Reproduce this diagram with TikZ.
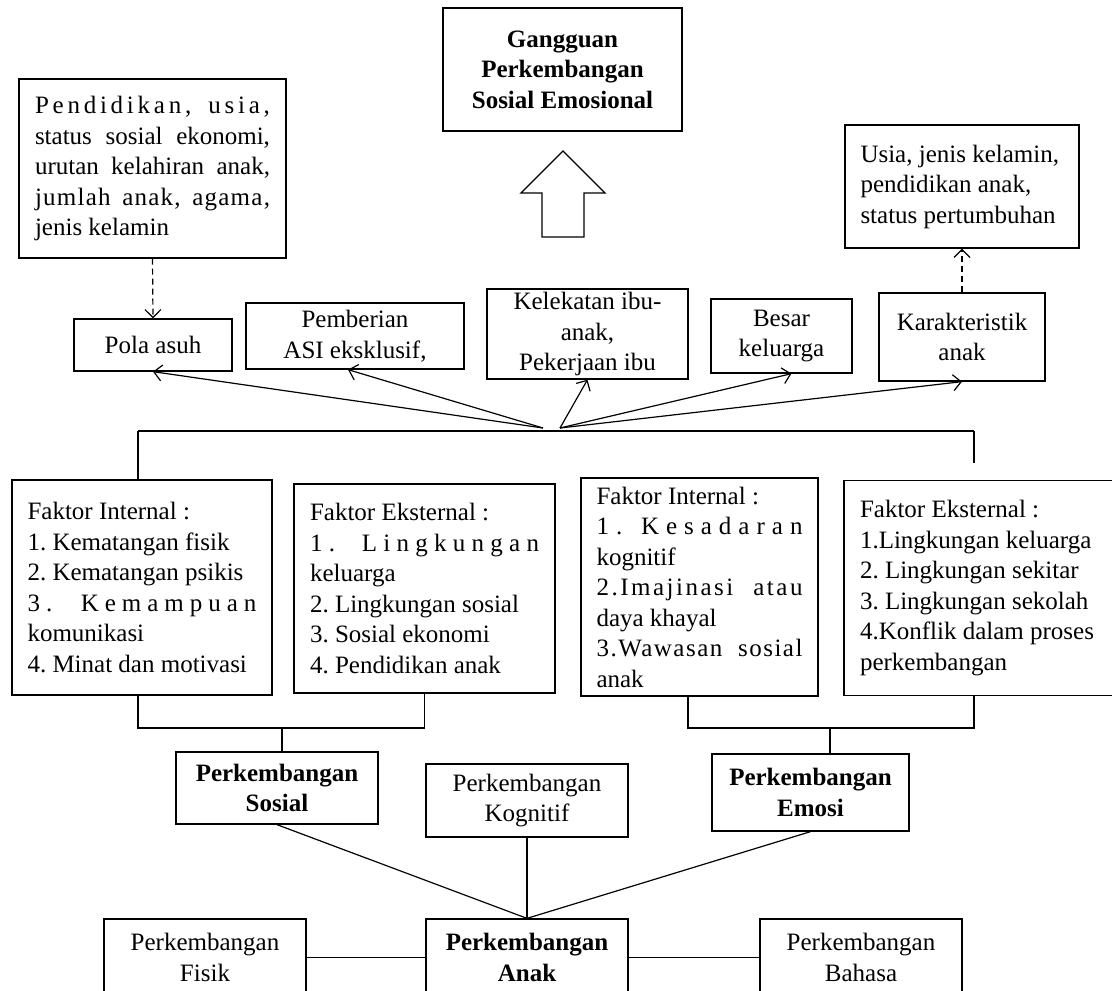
\documentclass[tikz,border=0pt]{standalone}
\usepackage{fontspec}
\setmainfont{Liberation Serif}
\usetikzlibrary{arrows.meta}

% stretched line as in the justified boxes
\newcommand{\fitline}[2][0]{\makebox[\hsize][s]{\spaceskip=0pt\xspaceskip=0pt\addfontfeature{LetterSpace=#1}#2}}

\begin{document}
\begin{tikzpicture}[x=1pt, y=-1pt,
    box/.style={draw, line width=1.3pt, inner sep=0pt, align=flush center, font=\fontsize{25}{30.5}\selectfont\frenchspacing},
    boldbox/.style={box, font=\fontsize{25}{30.5}\selectfont\bfseries},
    listbox/.style={box, align=flush left},
    link/.style={line width=1.2pt},
    pointer/.style={link, -{Straight Barb[length=8pt,width=16pt]}},
    dashpointer/.style={pointer, dash pattern=on 6pt off 4pt}]
    % Page
    \fill[white] (0,0) rectangle (1112,991);
    \useasboundingbox (0,0) rectangle (1112,991);

    % Outcome and block arrow
    \node[boldbox, minimum width=239, minimum height=123] (gangguan) at (562.5,69.5) {Gangguan\\Perkembangan\\Sosial Emosional};
    \draw[line width=1.3pt] (563,151) -- (605,193) -- (584,193) -- (584,237) -- (542,237) -- (542,193) -- (521,193) -- cycle;

    % Background factors
    \node[listbox, text width=235, minimum width=267, minimum height=179] (ortu) at (152.5,168.5)
        {\fitline[15]{Pendidikan, usia,}\\ \fitline{status sosial ekonomi,}\\ \fitline{urutan kelahiran anak,}\\ \fitline[5]{jumlah anak, agama,}\\ jenis kelamin};
    \node[listbox, text width=203, minimum width=234, minimum height=123] (cirianak) at (962,186.5)
        {Usia, jenis kelamin,\\ pendidikan anak,\\ status pertumbuhan};

    % Direct factors
    \node[box, minimum width=158, minimum height=52] (pola) at (153,345) {Pola asuh};
    \node[box, minimum width=218, minimum height=66] (asi) at (355,336) {Pemberian\\ASI eksklusif,};
    \node[box, minimum width=201, minimum height=90] (lekat) at (587.5,334) {Kelekatan ibu-\\anak,\\Pekerjaan ibu};
    \node[box, minimum width=141, minimum height=74] (besar) at (781.5,336) {Besar\\keluarga};
    \node[box, minimum width=166, minimum height=88] (karakter) at (962,337) {Karakteristik\\anak};

    \draw[dashpointer] (ortu.south) -- (pola.north);
    \draw[dashpointer] (karakter.north) -- (cirianak.south);

    % Arrows from the bus line
    \coordinate (hubL) at (543,428);
    \coordinate (hubR) at (560,428);
    \draw[pointer] (hubL) -- (pola.south);
    \draw[pointer] (hubL) -- ([xshift=-7pt]asi.south);
    \draw[pointer] (hubR) -- (lekat.south);
    \draw[pointer] (hubR) -- ([xshift=10pt]besar.south);
    \draw[pointer] (hubR) -- (karakter.south);

    % Factor boxes
    \node[listbox, text width=229, minimum width=260, minimum height=215] (f1) at (142,587.5)
        {Faktor Internal :\\ 1. Kematangan fisik\\ 2. Kematangan psikis\\ \fitline[24]{3. Kemampuan}\\ komunikasi\\ 4. Minat dan motivasi};
    \node[listbox, text width=229, minimum width=261, minimum height=209] (f2) at (424.5,588.5)
        {Faktor Eksternal :\\ \fitline[25]{1. Lingkungan}\\ keluarga\\ 2. Lingkungan sosial\\ 3. Sosial ekonomi\\ 4. Pendidikan anak};
    \node[listbox, text width=206, minimum width=237, minimum height=218] (f3) at (699.5,587)
        {Faktor Internal :\\ \fitline[28]{1. Kesadaran}\\ kognitif\\ \fitline[10]{2.Imajinasi atau}\\ daya khayal\\ \fitline[6]{3.Wawasan sosial}\\ anak};
    \node[listbox, text width=268, minimum width=300, minimum height=215] (f4) at (994,588)
        {Faktor Eksternal :\\ 1.Lingkungan keluarga\\ 2. Lingkungan sekitar\\ 3. Lingkungan sekolah\\ 4.Konflik dalam proses\\ perkembangan};

    % Bus line
    \coordinate (busL) at (138,431);
    \coordinate (busR) at (974,431);
    \coordinate (busEnd) at (974,463);
    \draw[link] (busL) -- (busR);
    \draw[link] (busL) -- (busL |- f1.north);
    \draw[link] (busR) -- (busEnd);

    % Domains
    \node[boldbox, minimum width=202, minimum height=72] (sosial) at (277,788) {Perkembangan\\Sosial};
    \node[box, minimum width=202, minimum height=73] (kognitif) at (527,800.5) {Perkembangan\\Kognitif};
    \node[boldbox, minimum width=197, minimum height=77] (emosi) at (810.5,792.5) {Perkembangan\\Emosi};

    \coordinate (jL) at (282,728);
    \coordinate (jR) at (830,728);
    \draw[link] (f1.south -| busL) |- (jL) -| (f2.south);
    \draw[link] (jL) -- (jL |- sosial.north);
    \draw[link] ([xshift=-11.5pt]f3.south) |- (jR) -| (f4.south -| busR);
    \draw[link] (jR) -- (jR |- emosi.north);

    % Child development
    \node[boldbox, minimum width=202, minimum height=77] (anak) at (527,957.5) {Perkembangan\\Anak};
    \node[box, minimum width=202, minimum height=77] (fisik) at (205,957.5) {Perkembangan\\Fisik};
    \node[box, minimum width=202, minimum height=77] (bahasa) at (861,957.5) {Perkembangan\\Bahasa};

    \draw[link] (sosial.south) -- (anak.north);
    \draw[link] (kognitif.south) -- (anak.north);
    \draw[link] (emosi.south) -- (anak.north);
    \draw[link] (fisik) -- (anak);
    \draw[link] (anak) -- (bahasa);
\end{tikzpicture}
\end{document}
